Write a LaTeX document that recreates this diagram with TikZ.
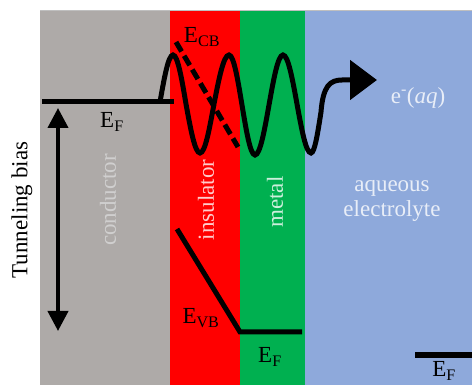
\documentclass[tikz,border=0pt]{standalone}
\usepackage{fontspec}
\setmainfont{Liberation Serif}
\usetikzlibrary{arrows.meta}
\definecolor{condgray}{RGB}{174,170,168}
\definecolor{insred}{RGB}{255,0,0}
\definecolor{metgreen}{RGB}{0,176,80}
\definecolor{aqblue}{RGB}{142,169,219}
\begin{document}
\begin{tikzpicture}[x=1pt, y=-1pt]
\tikzset{ >={Triangle[length=20pt,width=20pt]}, inner sep=0pt, outer sep=0pt,
  lvl/.style={line width=5pt},
  lbl/.style={font=\fontsize{23}{25}\selectfont},
  layer/.style={font=\fontsize{23}{25}\selectfont, text=white, text opacity=0.8},
}

\useasboundingbox (0,0) rectangle (472,385);

%\draw [lightgray, dashed](0,0) grid [step=20] (472,385);

\fill [condgray] (40,11)  rectangle (170,385);
\fill [insred]   (170,11) rectangle (240,385);
\fill [metgreen] (240,11) rectangle (305,385);
\fill [aqblue]   (305,11) rectangle (472,385);
\draw [black!25, line width=1pt] (40,10.5) -- (472,10.5);

\coordinate (CL) at (42,102);
\coordinate (CR) at (174,102);
\coordinate (VBtop) at (177,229);
\coordinate (VBbot) at (240,332);
\coordinate (MR) at (302,332);
\coordinate (CBtop) at (176,42);
\coordinate (CBbot) at (238,147);
\coordinate (AL) at (415,355);
\coordinate (AR) at (472,355);
\coordinate (Btop) at (58,108);
\coordinate (Bbot) at (58,331);
\coordinate (Wstart) at (160,102);
\coordinate (Wend) at (377,80);

\draw [lvl] (CL) -- (CR);
\draw [lvl] (VBtop) -- (VBbot) -- (MR);
\draw [lvl] (AL) -- (AR);
\draw [lvl, dash pattern=on 11pt off 5pt] (CBtop) -- (CBbot);
\draw [line width=4pt, <->] (Btop) -- (Bbot);

\draw [lvl, -{Triangle[length=27pt,width=39pt]}] (Wstart)
  sin (173,55) cos (186,104) sin (200,153)
  cos (214,104) sin (229,55) cos (242,105) sin (255,155)
  cos (269,105) sin (283,55) cos (297,104) sin (311,153)
  cos (321,112) .. controls (323,86) and (330,80) .. (342,80) -- (Wend);

\node [lbl] (ECB) at (202,37) {E\textsubscript{CB}};
\node [lbl] (EFc) at (112,122) {E\textsubscript{F}};
\node [lbl] (EVB) at (201,318) {E\textsubscript{VB}};
\node [lbl] (EFm) at (270,357) {E\textsubscript{F}};
\node [lbl] (EFa) at (444,371) {E\textsubscript{F}};

\node [layer] (eaq) at (418,98) {e\textsuperscript{-}(\textit{aq})};
\node [layer, align=center] (elec) at (392,201) {aqueous\\electrolyte};
\node [layer, text=black!15, rotate=90] (cond) at (108,200) {conductor};
\node [layer, rotate=90] (ins) at (206,200) {insulator};
\node [layer, rotate=90] (met) at (275,202) {metal};
\node [lbl, rotate=90] (bias) at (22,210) {Tunneling bias};

\end{tikzpicture}
\end{document}
